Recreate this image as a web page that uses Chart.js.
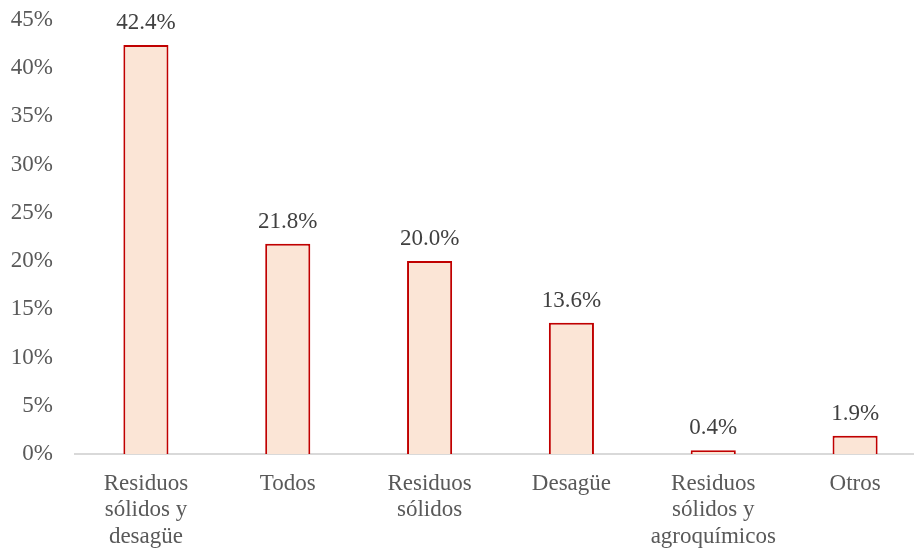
<!DOCTYPE html>
<html>
<head>
<meta charset="utf-8">
<script src="https://cdn.jsdelivr.net/npm/chart.js@4"></script>
<style>
  html, body { margin: 0; padding: 0; background: #fff; overflow: hidden; }
  #wrap { width: 926px; height: 551px; }
</style>
</head>
<body>
<div id="wrap"><canvas id="chart"></canvas></div>
<script>
// Datos del gráfico
const categorias = [
    ['Residuos', 'sólidos y', 'desagüe'],
    'Todos',
    ['Residuos', 'sólidos'],
    'Desagüe',
    ['Residuos', 'sólidos y', 'agroquímicos'],
    'Otros'
];
const valores = [42.4, 21.8, 20.0, 13.6, 0.4, 1.9];
const ticksY = [0, 5, 10, 15, 20, 25, 30, 35, 40, 45];

const fuente = '"Liberation Serif", "Times New Roman", serif';

// Etiquetas de datos encima de cada barra
const etiquetas = {
    id: 'etiquetas',
    afterDatasetsDraw(chart) {
        const ctx = chart.ctx;
        const meta = chart.getDatasetMeta(0);
        ctx.save();
        ctx.font = '23px ' + fuente;
        ctx.fillStyle = '#404040';
        ctx.textAlign = 'center';
        ctx.textBaseline = 'alphabetic';
        meta.data.forEach((bar, i) => {
            ctx.fillText(valores[i].toFixed(1) + '%', bar.x, bar.y - 16);
        });
        ctx.restore();
    }
};

new Chart(document.getElementById('chart'), {
    type: 'bar',
    data: {
        labels: categorias,
        datasets: [{
            data: valores,
            backgroundColor: '#FBE5D6',
            borderColor: '#C00000',
            borderWidth: 2,
            categoryPercentage: 1,
            barPercentage: 0.318
        }]
    },
    options: {
        responsive: true,
        maintainAspectRatio: false,
        animation: false,
        layout: { padding: { top: 20, left: 0, right: 0, bottom: 0 } },
        plugins: {
            legend: { display: false },
            tooltip: { enabled: false }
        },
        scales: {
            x: {
                afterFit(axis) { axis.height = 97; },
                grid: { display: false, drawTicks: false },
                border: { display: true, color: '#D9D9D9', width: 2 },
                ticks: {
                    color: '#595959',
                    padding: 16,
                    maxRotation: 0,
                    autoSkip: false,
                    font: { family: fuente, size: 23, lineHeight: 1.17 }
                }
            },
            y: {
                min: 0,
                max: 45,
                afterFit(axis) {
                    axis.width = 75;
                    axis.paddingTop = 0;
                    axis.paddingBottom = 0;
                },
                afterBuildTicks(axis) {
                    axis.ticks = ticksY.map(v => ({ value: v }));
                },
                grid: { display: false, drawTicks: false },
                border: { display: false },
                ticks: {
                    color: '#595959',
                    padding: 22,
                    font: { family: fuente, size: 23 },
                    callback: v => v + '%'
                }
            }
        }
    },
    plugins: [etiquetas]
});
</script>
</body>
</html>
